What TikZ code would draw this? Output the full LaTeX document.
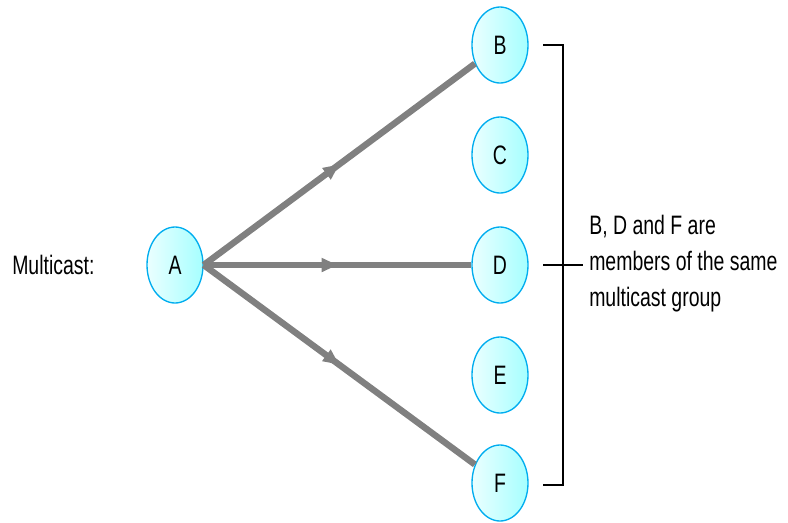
\documentclass[tikz,border=0pt]{standalone}
\usepackage{fontspec}
\setmainfont{Liberation Sans}[FakeStretch=0.73]
\usetikzlibrary{shapes.geometric,decorations.markings,arrows.meta}
\begin{document}
\begin{tikzpicture}[x=0.75pt,y=-0.75pt,
  host/.style={ellipse,draw=cyan,line width=1pt,left color=cyan!8,right color=cyan!35,
    minimum width=42pt,minimum height=57pt,inner sep=0pt,
    font=\fontsize{20}{24}\selectfont},
  flow/.style={draw=black!50,line width=4.8pt,
    postaction={decorate},
    decoration={markings,mark=at position 0.5 with {\arrow{Triangle[length=12pt,width=10pt]}}}},
  bracket/.style={draw=black,line width=1.4pt},
  label/.style={font=\fontsize{20}{27}\selectfont,align=left,inner sep=0pt}]
  \useasboundingbox (0,0) rectangle (788,522);
  % hosts
  \node[host] (A) at (175,265) {A};
  \node[host] (B) at (500,45) {B};
  \node[host] (C) at (500,155) {C};
  \node[host] (D) at (500,265) {D};
  \node[host] (E) at (500,375) {E};
  \node[host] (F) at (500,483) {F};
  \node[label,anchor=west] (M) at (12,265) {Multicast:};
  % multicast paths
  \draw[flow,fill=black!50] (A.east) -- (B);
  \draw[flow,fill=black!50] (A.east) -- (D);
  \draw[flow,fill=black!50] (A.east) -- (F);
  % group bracket
  \coordinate (bt) at (543,45);
  \coordinate (bt2) at (563,45);
  \coordinate (bb) at (563,485);
  \coordinate (bb2) at (543,485);
  \coordinate (dl) at (543,265);
  \coordinate (dr) at (583,265);
  \draw[bracket] (bt) -- (bt2) -- (bb) -- (bb2);
  \draw[bracket] (dl) -- (dr);
  \node[label,anchor=west] (T) at (589,264) {B, D and F are\\members of the same\\multicast group};
\end{tikzpicture}
\end{document}
